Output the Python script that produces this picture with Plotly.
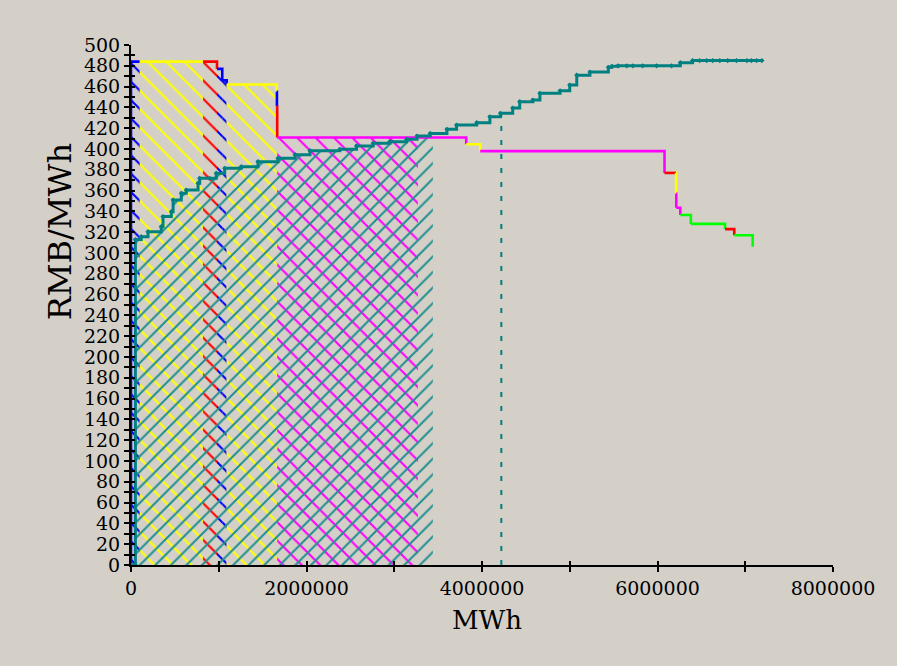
import numpy as np
import plotly.graph_objects as go

# ---------------- data ----------------
# supply (offer) steps: end quantity of each step, price, colour
supply_q_end = [100000, 820000, 980000, 1040000, 1090000, 1660000, 1663000, 1666000,
                3820000, 3980000, 6080000, 6210000, 6212000, 6214000, 6260000,
                6380000, 6770000, 6875000, 7085000, 7085000]
supply_price = [484, 484, 484, 477, 466, 462, 455, 441,
                411, 404.5, 398, 377, 377, 357, 343.5,
                336.5, 328, 323, 317, 306]
supply_color = ["#0000ff", "#ffff00", "#ff0000", "#0000ff", "#0000ff", "#ffff00", "#0000ff", "#ff0000",
                "#ff00ff", "#ffff00", "#ff00ff", "#ff0000", "#ffff00", "#ff00ff", "#ff00ff",
                "#00ff00", "#00ff00", "#ff0000", "#00ff00", "#00ff00"]

# demand (bid) curve points
demand_q = [0, 50000, 117000, 194000, 345000, 365000, 460000, 480000, 573000, 630000,
            764000, 783000, 897000, 972000, 1068000, 1257000, 1447000, 1675000, 1870000,
            2040000, 2380000, 2570000, 2760000, 2950000, 3140000, 3260000, 3410000, 3600000,
            3710000, 3940000, 4090000, 4210000, 4350000, 4430000, 4580000, 4660000, 4890000,
            5000000, 5080000, 5230000, 5440000, 5480000, 5550000, 5650000, 5720000, 5830000,
            5990000, 6160000, 6260000, 6400000, 6480000, 6560000, 6630000, 6710000, 6800000,
            6900000, 7020000, 7070000, 7130000, 7190000]
demand_p = [0, 313, 315.7, 320.5, 325.3, 335, 339.7, 351, 357.4, 360.6,
            367, 371.8, 371.8, 376.6, 381.4, 383, 387.8, 391, 394.5,
            398.4, 399.7, 403, 405.5, 407, 409.3, 412.5, 415, 419,
            423, 425.3, 431, 434.3, 439.4, 445.5, 447, 453.6, 456,
            461.5, 471, 474, 478.6, 479.5, 480, 480, 480, 480,
            480, 480, 483, 485, 485, 485, 485, 485, 485,
            485, 485, 485, 485, 485]

supply_hatch_end = 3270000   # cleared quantity (supply hatch limit)
demand_hatch_end = 3440000   # demand hatch limit
dotted_q = 4220000           # dotted vertical marker

x_ticks = [0, 2000000, 4000000, 6000000, 8000000]
x_tick_text = ["0", "2000000", "4000000", "6000000", "8000000"]

TEAL = "#008080"
HATCH_TEAL = "#1f8f8f"
BG = "#d4d0c8"

fig = go.Figure()

# ---------------- supply hatched areas ----------------
q_start = [0] + supply_q_end[:-1]
for qs, qe, p, c in zip(q_start, supply_q_end, supply_price, supply_color):
    if qs >= supply_hatch_end or qe <= qs:
        continue
    qe2 = min(qe, supply_hatch_end)
    fig.add_trace(go.Scatter(
        x=[qs, qs, qe2, qe2, qs], y=[0, p, p, 0, 0], mode="lines",
        line=dict(width=0), fill="toself", fillcolor="rgba(0,0,0,0)",
        fillpattern=dict(shape="\\", fgcolor=c, fgopacity=1, bgcolor="rgba(0,0,0,0)",
                         size=13, solidity=0.16),
        hoverinfo="skip", showlegend=False))

# ---------------- demand hatched area ----------------
dq = np.array(demand_q, dtype=float)
dp = np.array(demand_p, dtype=float)
mask = dq <= demand_hatch_end
hx = list(dq[mask]) + [demand_hatch_end]
hy = list(dp[mask]) + [dp[mask][-1]]
fig.add_trace(go.Scatter(
    x=hx, y=hy, mode="lines", line=dict(width=0, shape="hv"),
    fill="tozeroy", fillcolor="rgba(0,0,0,0)",
    fillpattern=dict(shape="/", fgcolor=HATCH_TEAL, fgopacity=1, bgcolor="rgba(0,0,0,0)",
                     size=11, solidity=0.18),
    hoverinfo="skip", showlegend=False))

# ---------------- dotted vertical line ----------------
dot_h = dp[dq <= dotted_q][-1]
fig.add_trace(go.Scatter(
    x=[dotted_q, dotted_q], y=[0, dot_h], mode="lines",
    line=dict(color=TEAL, width=2, dash="5px,9px"),
    hoverinfo="skip", showlegend=False))

# ---------------- supply curve ----------------
for i, (qs, qe, p, c) in enumerate(zip(q_start, supply_q_end, supply_price, supply_color)):
    nxt = supply_price[i + 1] if i + 1 < len(supply_price) else p
    xs = [qs, qe, qe]
    ys = [p, p, nxt]
    if i == 0:
        xs = [qs] + xs
        ys = [0] + ys
    fig.add_trace(go.Scatter(x=xs, y=ys, mode="lines", line=dict(color=c, width=2.6),
                             hoverinfo="skip", showlegend=False))

# ---------------- demand curve ----------------
fig.add_trace(go.Scatter(
    x=demand_q, y=demand_p, mode="lines+markers",
    line=dict(color=TEAL, width=3, shape="hv"),
    marker=dict(symbol="diamond", size=4, color=TEAL),
    hoverinfo="skip", showlegend=False))

# dummy trace for the overlay axes (inside ticks)
fig.add_trace(go.Scatter(x=[None], y=[None], xaxis="x2", yaxis="y2",
                         showlegend=False, hoverinfo="skip"))

tick_font = dict(family="DejaVu Serif", size=19, color="#000000")

fig.update_layout(
    width=897, height=666,
    paper_bgcolor=BG, plot_bgcolor=BG,
    margin=dict(l=131, r=64, t=45, b=101),
    showlegend=False,
    xaxis=dict(range=[0, 8000000], showgrid=False, zeroline=False,
               showline=True, linecolor="#000000", linewidth=2,
               ticks="outside", ticklen=5, tickwidth=1.5, tickcolor="#000000",
               tickvals=x_ticks, ticktext=x_tick_text, tickfont=tick_font,
               minor=dict(dtick=1000000, tick0=0, ticks="outside", ticklen=5,
                          tickwidth=1.5, tickcolor="#000000", showgrid=False)),
    yaxis=dict(range=[0, 500], showgrid=False, zeroline=False,
               showline=True, linecolor="#000000", linewidth=2,
               ticks="outside", ticklen=5, tickwidth=1.5, tickcolor="#000000",
               dtick=20, tick0=0, tickfont=tick_font,
               minor=dict(dtick=10, tick0=0, ticks="outside", ticklen=5,
                          tickwidth=1.5, tickcolor="#000000", showgrid=False)),
    xaxis2=dict(range=[0, 8000000], overlaying="x", anchor="y", side="bottom",
                showgrid=False, zeroline=False, showline=False,
                ticks="inside", ticklen=4, tickwidth=1.5, tickcolor="#000000",
                dtick=1000000, tick0=0, showticklabels=False),
    yaxis2=dict(range=[0, 500], overlaying="y", anchor="x", side="left",
                showgrid=False, zeroline=False, showline=False,
                ticks="inside", ticklen=4, tickwidth=1.5, tickcolor="#000000",
                dtick=10, tick0=0, showticklabels=False),
    annotations=[
        dict(text="RMB/MWh", xref="paper", yref="paper", x=-0.101, y=0.64,
             xanchor="center", yanchor="middle",
             textangle=-90, showarrow=False,
             font=dict(family="DejaVu Serif", size=32, color="#000000")),
        dict(text="MWh", xref="paper", yref="paper", x=0.507, y=-0.106,
             xanchor="center", yanchor="middle",
             showarrow=False, font=dict(family="DejaVu Serif", size=26, color="#000000")),
    ],
)

fig.write_html("out.html", config={"displayModeBar": False},
               post_script="document.body.style.margin='0';document.body.style.background='#d4d0c8';")
